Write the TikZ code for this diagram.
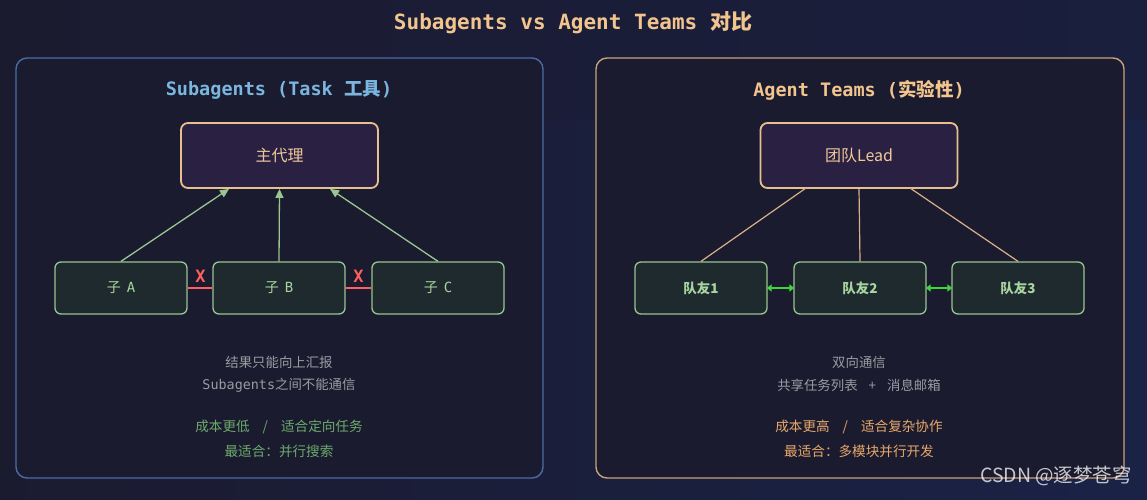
\documentclass[tikz,border=0pt]{standalone}
\usepackage{fontspec}
\setmainfont{DejaVu Sans}
\setmonofont{DejaVu Sans Mono}
\newfontfamily\cjk{Noto Sans CJK SC}
\usetikzlibrary{arrows.meta}
\definecolor{bgA}{HTML}{1B1B30}
\definecolor{bgB}{HTML}{1A2246}
\definecolor{panelfill}{HTML}{1B1B2F}
\definecolor{leftborder}{HTML}{4A6BA8}
\definecolor{rightborder}{HTML}{C9A27A}
\definecolor{titlec}{HTML}{F2C48E}
\definecolor{lefttitle}{HTML}{7AB6DF}
\definecolor{mainfill}{HTML}{2A2042}
\definecolor{mainborder}{HTML}{E6C08F}
\definecolor{maintext}{HTML}{F0C898}
\definecolor{childfill}{HTML}{1E2A2E}
\definecolor{childborder}{HTML}{98C590}
\definecolor{childtext}{HTML}{A8D4A0}
\definecolor{redc}{HTML}{FF5F5F}
\definecolor{teamline}{HTML}{D8B08A}
\definecolor{bidir}{HTML}{3ED43E}
\definecolor{grayt}{HTML}{9A9AA2}
\definecolor{greent}{HTML}{6BAA6B}
\definecolor{oranget}{HTML}{E8A86A}
\newcommand{\slashsep}{\hspace{13pt}/\hspace{13pt}}
\newcommand{\plussep}{\hspace{11pt}+\hspace{11pt}}
\begin{document}
\begin{tikzpicture}[x=1pt,y=-1pt,
  panel/.style={draw, line width=1.4pt, fill=panelfill, rounded corners=11pt},
  mainbox/.style={draw=mainborder, line width=1.8pt, fill=mainfill, rounded corners=7pt,
    minimum width=197pt, minimum height=65pt, inner sep=0pt, text=maintext, font=\cjk\fontsize{16}{19}\selectfont},
  childbox/.style={draw=childborder, line width=1.3pt, fill=childfill, rounded corners=6pt,
    minimum width=132pt, minimum height=52pt, inner sep=0pt, text=childtext, font=\fontsize{14}{17}\selectfont},
  uparrow/.style={draw=childborder, line width=1.3pt, -{Triangle[length=9pt,width=8pt]}},
  teamconn/.style={draw=teamline, line width=1.2pt},
  bidirarrow/.style={draw=bidir, line width=2.4pt, {Triangle[length=5pt,width=7pt]}-{Triangle[length=5pt,width=7pt]}, shorten <=-1pt, shorten >=-1pt},
  redline/.style={draw=redc, line width=2pt},
  xmark/.style={text=redc, font=\ttfamily\bfseries\fontsize{17}{19}\selectfont},
  body/.style={font=\cjk\fontsize{13.4}{16}\selectfont, inner sep=0pt},
  bodyb/.style={font=\cjk\fontsize{13.6}{16}\selectfont, inner sep=0pt},
  ptitle/.style={font=\fontsize{18.5}{21}\selectfont, inner sep=0pt}
]
\useasboundingbox (0,0) rectangle (1147,499);
\shade[left color=bgA, right color=bgB] (0,0) rectangle (1147,499);
\fill[bgA, opacity=0.35] (0,0) rectangle (1147,120);

% main title
\node[inner sep=0pt, text=titlec, font=\fontsize{21}{24}\selectfont] (title) at (573,23)
  {\ttfamily\bfseries Subagents vs Agent Teams {\cjk\bfseries 对比}};

% panels
\node[panel, draw=leftborder, minimum width=527pt, minimum height=420pt, inner sep=0pt] (lp) at (279.5,268) {};
\node[panel, draw=rightborder, minimum width=528pt, minimum height=420pt, inner sep=0pt] (rp) at (860,268) {};

% left panel
\node[ptitle, text=lefttitle] (lt) at (279,90) {\ttfamily\bfseries Subagents (Task {\cjk\bfseries 工具})};
\node[mainbox] (main) at (279.5,155.5) {主代理};
\node[childbox] (ca) at (121,288) {{\cjk 子}\hspace{6pt}\texttt{A}};
\node[childbox] (cb) at (279,288) {{\cjk 子}\hspace{6pt}\texttt{B}};
\node[childbox] (cc) at (438,288) {{\cjk 子}\hspace{6pt}\texttt{C}};
\draw[uparrow] (ca.north) -- (main.south west -| 229,188);
\draw[uparrow] (cb.north) -- (main.south);
\draw[uparrow] (cc.north) -- (main.south east -| 330,188);
\draw[redline] (ca.east) -- (cb.west);
\draw[redline] (cb.east) -- (cc.west);
\node[xmark] (x1) at (200.5,276) {X};
\node[xmark] (x2) at (358.5,276) {X};
\node[body, text=grayt] (l1) at (279,362) {结果只能向上汇报};
\node[body, text=grayt] (l2) at (279,385) {\ttfamily Subagents{\cjk 之间不能通信}};
\node[bodyb, text=greent] (l3) at (279,427) {成本更低\slashsep 适合定向任务};
\node[bodyb, text=greent] (l4) at (279,451) {最适合：并行搜索};

% right panel
\node[ptitle, text=titlec] (rt) at (859,90) {\ttfamily\bfseries Agent Teams ({\cjk\bfseries 实验性})};
\node[mainbox] (lead) at (859,155.5) {团队Lead};
\node[childbox, font=\cjk\bfseries\fontsize{13.5}{16}\selectfont] (t1) at (701,288) {队友1};
\node[childbox, font=\cjk\bfseries\fontsize{13.5}{16}\selectfont] (t2) at (860,288) {队友2};
\node[childbox, font=\cjk\bfseries\fontsize{13.5}{16}\selectfont] (t3) at (1018,288) {队友3};
\coordinate (la) at (806,188);
\coordinate (lc) at (910,188);
\draw[teamconn] (la) -- (t1.north);
\draw[teamconn] (lead.south) -- (t2.north);
\draw[teamconn] (lc) -- (t3.north);
\draw[bidirarrow] (t1.east) -- (t2.west);
\draw[bidirarrow] (t2.east) -- (t3.west);
\node[body, text=grayt] (r1) at (859,362) {双向通信};
\node[body, text=grayt] (r2) at (859,385) {共享任务列表\plussep 消息邮箱};
\node[bodyb, text=oranget] (r3) at (859,427) {成本更高\slashsep 适合复杂协作};
\node[bodyb, text=oranget] (r4) at (859,451) {最适合：多模块并行开发};

% watermark
\node[inner sep=0pt, text=white, opacity=0.75, font=\cjk\fontsize{19.5}{22}\selectfont] (wm) at (1056,476) {CSDN @逐梦苍穹};
\end{tikzpicture}
\end{document}
